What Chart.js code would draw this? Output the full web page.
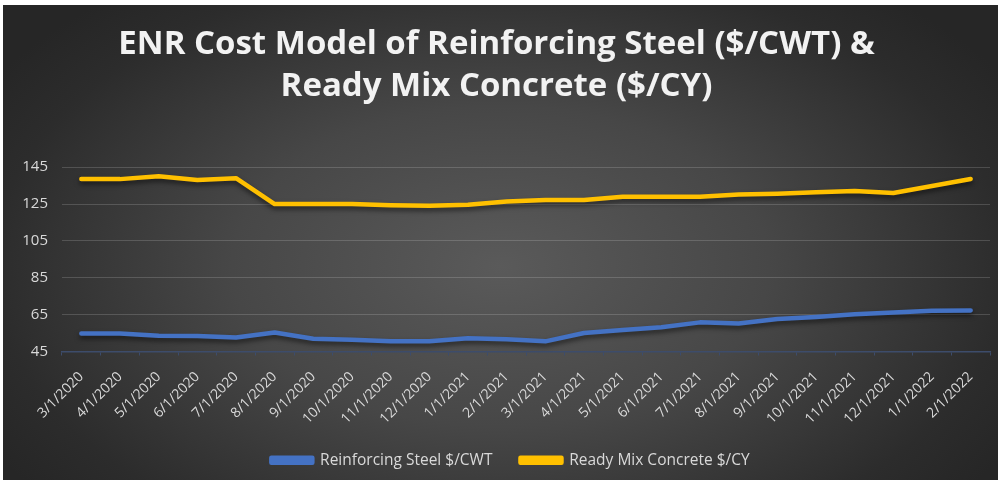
<!DOCTYPE html>
<html>
<head>
<meta charset="utf-8">
<script src="https://cdn.jsdelivr.net/npm/chart.js@4/dist/chart.umd.min.js"></script>
<style>
  html, body { margin: 0; padding: 0; background: #fff; }
  #wrap {
    position: absolute; left: 3px; top: 5px; width: 995px; height: 475px;
    background: radial-gradient(ellipse 60% 75% at 50% 55%, #5a5a5a 0%, #474747 45%, #2c2c2c 85%, #262626 100%);
  }
</style>
</head>
<body>
<div id="wrap"><canvas id="chart"></canvas></div>
<script>
const months = ['3/1/2020','4/1/2020','5/1/2020','6/1/2020','7/1/2020','8/1/2020','9/1/2020','10/1/2020',
  '11/1/2020','12/1/2020','1/1/2021','2/1/2021','3/1/2021','4/1/2021','5/1/2021','6/1/2021','7/1/2021',
  '8/1/2021','9/1/2021','10/1/2021','11/1/2021','12/1/2021','1/1/2022','2/1/2022'];
const steel = [54.8, 54.8, 53.5, 53.4, 52.6, 55.3, 51.9, 51.4, 50.6, 50.6, 52.2, 51.7,
  50.5, 55.0, 56.6, 58.2, 60.8, 60.2, 62.6, 63.7, 65.2, 66.2, 67.1, 67.3];
const concrete = [138.5, 138.5, 140.0, 138.0, 139.0, 125.0, 125.0, 125.0, 124.3, 124.0, 124.6, 126.4,
  127.2, 127.2, 129.0, 129.0, 129.0, 130.1, 130.6, 131.4, 132.0, 131.0, 134.8, 138.6];
const yTicks = [45, 65, 85, 105, 125, 145];

// soft drop shadow under the lines, like the Excel style
const shadowPlugin = {
  id: 'lineShadow',
  beforeDatasetDraw(chart) {
    const ctx = chart.ctx;
    ctx.save();
    ctx.shadowColor = 'rgba(0,0,0,0.55)';
    ctx.shadowBlur = 5;
    ctx.shadowOffsetY = 3;
  },
  afterDatasetDraw(chart) { chart.ctx.restore(); }
};

// legend centering counts the trailing item padding, nudge it back
const legendNudge = {
  id: 'legendNudge',
  afterLayout(chart) {
    if (chart.legend) { chart.legend.left += 14; chart.legend.right += 14; }
  }
};

new Chart(document.getElementById('chart'), {
  type: 'line',
  data: {
    labels: months,
    datasets: [
      { label: 'Reinforcing Steel $/CWT', data: steel, borderColor: '#4472C4', backgroundColor: '#4472C4',
        borderWidth: 4.5, pointRadius: 0, tension: 0, borderCapStyle: 'round', borderJoinStyle: 'round' },
      { label: 'Ready Mix Concrete $/CY', data: concrete, borderColor: '#FFC000', backgroundColor: '#FFC000',
        borderWidth: 4.5, pointRadius: 0, tension: 0, borderCapStyle: 'round', borderJoinStyle: 'round' }
    ]
  },
  options: {
    responsive: true,
    maintainAspectRatio: false,
    animation: false,
    layout: { padding: { left: 0, right: 8, top: 0, bottom: 2 } },
    plugins: {
      title: {
        display: true,
        text: ['ENR Cost Model of Reinforcing Steel ($/CWT) &', 'Ready Mix Concrete ($/CY)'],
        color: '#f2f2f2',
        font: { family: 'Open Sans', size: 33, weight: 'bold', lineHeight: 1.29 },
        padding: { top: 18, bottom: 59 }
      },
      legend: {
        position: 'bottom',
        labels: {
          color: '#d9d9d9',
          font: { family: 'Open Sans', size: 15.5 },
          boxWidth: 41, boxHeight: 5, padding: 28
        }
      },
      tooltip: { enabled: false }
    },
    scales: {
      x: {
        offset: true,
        grid: { display: true, offset: true, drawOnChartArea: false, drawTicks: true, tickLength: 4, color: '#3d4c6b' },
        border: { display: true, color: '#3d4c6b', width: 1.5 },
        ticks: { color: '#d9d9d9', font: { family: 'Open Sans', size: 14 }, minRotation: 45, maxRotation: 45, autoSkip: false, padding: 13 },
        afterFit(scale) { scale.height = 73; }
      },
      y: {
        min: 45, max: 145,
        afterBuildTicks(scale) { scale.ticks = yTicks.map(v => ({ value: v })); },
        grid: { color: 'rgba(255,255,255,0.16)', drawTicks: false },
        border: { display: false },
        ticks: { color: '#d9d9d9', font: { family: 'Open Sans', size: 15 }, padding: 14 },
        afterFit(scale) { scale.width = 59; }
      }
    }
  },
  plugins: [shadowPlugin, legendNudge]
});
</script>
</body>
</html>
